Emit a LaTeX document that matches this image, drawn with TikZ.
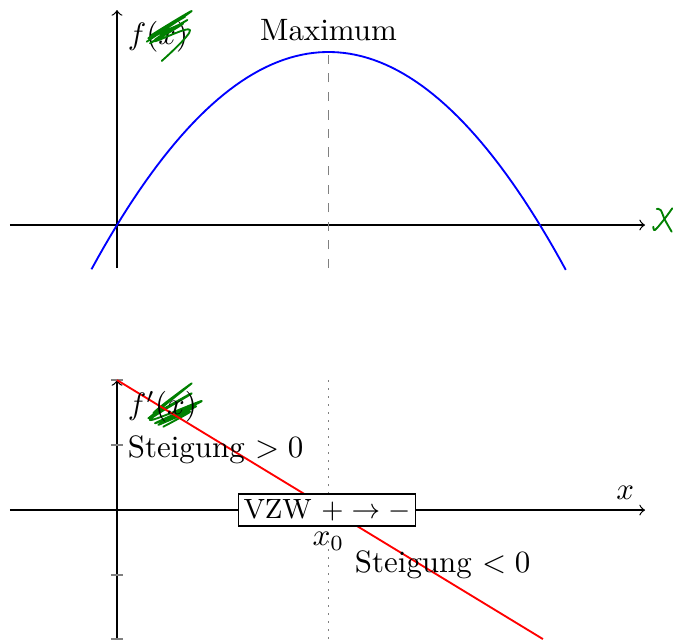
\documentclass[tikz,border=0pt]{standalone}
\usetikzlibrary{positioning}
\definecolor{penGreen}{RGB}{0,128,0}
\begin{document}
\begin{tikzpicture}[
    axis/.style={->},
    scribble/.style={penGreen, line width=0.6pt, line cap=round, line join=round},
    tickmark/.style={gray}
]
    \useasboundingbox (-1.3295,-4.705) rectangle (6.318,2.557);
    % Function f
    \draw[axis] (-1.216,0) -- (6.0,0);
    \draw[axis] (0,-0.489) -- (0,2.443) coordinate (ftop);
    \draw[blue, semithick] plot[domain=-0.29:5.1, samples=80]
        (\x,{1.966*(1-((\x-2.403)/2.403)^2)});
    \coordinate (xmax) at (2.403,1.966);
    \draw[gray, dashed] (2.403,-0.489) -- (xmax);
    \node[above] (maxlabel) at (xmax) {Maximum};
    \node[below right] (flabel) at (ftop) {$f(x)$};

    % Scribbles
    \draw[scribble] plot[smooth, tension=0.8] coordinates {(0.338,2.083) (0.849,2.432)
        (0.394,2.159) (0.773,2.367) (0.356,2.122) (0.753,2.292) (0.375,2.065)
        (0.800,2.330) (0.420,2.090) (0.830,2.216) (0.508,1.864)};
    \draw[scribble] plot[smooth, tension=0.6] coordinates {(6.133,0.182) (6.178,0.170)
        (6.227,0.057) (6.303,-0.076)};
    \draw[scribble] plot[smooth, tension=0.6] coordinates {(6.31,0.190) (6.227,0.076)
        (6.133,-0.038) (6.102,-0.057) (6.094,-0.019)};
    \draw[scribble] plot[smooth, tension=0.8] coordinates {(0.356,-2.197) (0.849,-1.799)
        (0.413,-2.140) (0.849,-1.913) (0.375,-2.216) (0.963,-2.0) (0.432,-2.253)
        (0.900,-2.060) (0.470,-2.270) (0.830,-2.122) (0.526,-2.292)};

    % Derivative f'
    \begin{scope}[yshift=-3.239cm]
        \draw[axis] (-1.216,0) -- (6.0,0) coordinate (xend);
        \draw[axis] (0,-1.466) -- (0,1.477) coordinate (dtop);
        \foreach \y in {-1.466,-0.738,0.738,1.477}
            \draw[tickmark] (-0.07,\y) -- (0.07,\y);
        \coordinate (x0) at (2.403,0);
        \draw[gray, dotted, line width=0.6pt] (2.403,-1.466) -- (2.403,1.477);
        \draw[red, semithick] (dtop) -- (4.84,-1.466);
        \node[above left] (xlabel) at (xend) {$x$};
        \node[below right] (dlabel) at (dtop) {$f'(x)$};
        \node[right] (posslope) at (0,0.68) {Steigung $>0$};
        \node[draw, fill=white, inner sep=1.7pt, font=\small] (vzw) at (2.386,0) {VZW $+\rightarrow-$};
        \node[below, yshift=-0.13cm] (x0label) at (x0) {$x_0$};
        \node (negslope) at (3.70,-0.625) {Steigung $<0$};
    \end{scope}
\end{tikzpicture}
\end{document}
